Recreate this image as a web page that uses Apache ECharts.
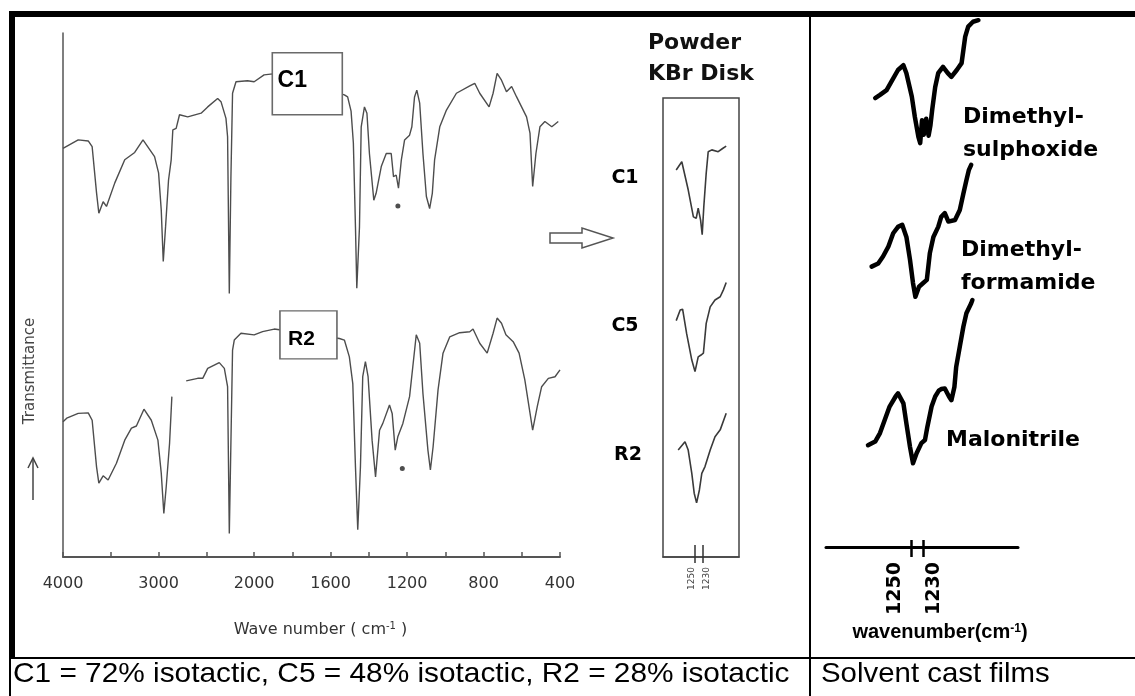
<!DOCTYPE html>
<html>
<head>
<meta charset="utf-8">
<script src="https://cdn.jsdelivr.net/npm/echarts@6/dist/echarts.min.js"></script>
<style>
  html, body { margin: 0; padding: 0; background: #fff; }
  #chart { width: 1135px; height: 696px; }
</style>
</head>
<body>
<div id="chart"></div>
<script>
// ---- Full-range IR spectra: [wavenumber cm-1, transmittance (offset, arb. units)] ----
const c1Spectrum = [
  [4000,78.0],[3841,79.6],[3736,79.4],[3695,78.3],[3649,69.5],[3625,65.6],[3580,67.8],[3545,66.9],
  [3458,71.4],[3354,75.8],[3250,77.2],[3163,79.6],[3042,76.4],[3000,73.3],[2972,66.2],[2951,56.4],
  [2927,63.0],[2896,71.9],[2868,75.8],[2851,81.5],[2816,81.8],[2781,84.4],[2695,84.0],[2555,84.7],
  [2486,85.9],[2382,87.5],[2347,86.9],[2295,83.7],[2278,80.2],[2260,50.3],[2243,72.6],[2226,88.5],
  [2190,90.7],[2070,90.9],[2000,90.7],[1948,92.0],[1903,92.2],[1528,88.2],[1511,87.8],[1493,85.1],
  [1481,79.0],[1470,63.0],[1463,51.3],[1449,63.0],[1440,82.1],[1423,85.9],[1410,84.7],[1397,77.0],
  [1374,68.1],[1362,69.4],[1335,74.5],[1309,77.0],[1283,77.0],[1271,72.6],[1257,72.9],[1245,70.4],
  [1230,75.8],[1213,79.6],[1187,80.5],[1175,82.1],[1161,87.8],[1149,89.1],[1134,86.6],[1117,77.0],
  [1099,68.8],[1082,66.5],[1068,69.4],[1056,75.8],[1029,82.1],[994,85.3],[942,88.5],[872,89.9],
  [846,90.4],[820,88.5],[771,85.9],[750,88.5],[729,92.3],[706,91.0],[680,88.8],[653,89.8],
  [627,87.8],[575,84.0],[557,80.9],[543,70.7],[526,77.0],[505,82.1],[479,83.1],[443,82.1],[409,83.1]
];
const r2Spectrum = [
  [4000,25.8],[3961,26.5],[3841,27.4],[3736,27.5],[3695,26.1],[3649,17.2],[3625,14.1],[3580,15.5],
  [3528,14.7],[3441,17.9],[3354,22.3],[3284,24.6],[3232,25.0],[3153,28.2],[3076,26.1],[3007,22.3],
  [2972,16.0],[2945,8.3],[2920,13.4],[2885,21.7],[2861,30.6],[2790,null],[2711,33.6],[2591,34.1],
  [2538,34.1],[2486,36.0],[2365,37.1],[2312,36.0],[2278,32.5],[2260,4.5],[2226,39.5],[2208,41.4],
  [2138,42.7],[2000,42.4],[1956,43.0],[1895,43.5],[1554,41.7],[1528,41.4],[1502,38.2],[1484,33.1],
  [1470,17.2],[1458,5.2],[1444,17.2],[1432,34.4],[1418,37.3],[1404,34.4],[1383,22.3],[1365,15.3],
  [1344,24.2],[1327,25.5],[1292,29.0],[1278,27.4],[1262,20.4],[1248,23.0],[1222,25.5],[1187,30.6],
  [1170,36.3],[1152,42.4],[1134,40.8],[1117,31.2],[1091,20.4],[1078,16.6],[1064,21.0],[1038,31.9],
  [1012,38.9],[977,42.0],[925,42.8],[872,43.0],[855,43.5],[820,40.8],[781,38.9],[750,42.7],
  [729,45.6],[706,44.6],[683,42.4],[645,41.1],[614,38.9],[584,33.8],[543,24.2],[519,28.7],
  [496,32.5],[461,34.1],[426,34.4],[400,35.7]
];
// asterisked bands (C1, R2)
const starredBands = [[1248,67.0],[1225,16.9]];
// sample tags drawn in boxes: [name, wavenumber, transmittance]
const spectrumTags = [['C1',1722,90.3],['R2',1716,42.4]];
const mainTicks = [4000,3500,3000,2500,2000,1800,1600,1400,1200,1000,800,600,400];
const mainTickLabels = [4000,3000,2000,1600,1200,800,400];

// ---- Powder KBr disk, 1300-1170 cm-1 region ----
const kbrC1 = [[1297,84.3],[1283,86.1],[1279,85.8],[1267,80.0],[1254,74.1],[1247,73.8],[1242,76.0],[1236,73.4],
  [1232,70.2],[1228,76.3],[1222,83.6],[1217,88.3],[1208,88.7],[1192,88.3],[1181,89.0],[1172,89.5]];
const kbrC5 = [[1297,51.5],[1287,53.8],[1281,54.0],[1271,48.7],[1258,42.9],[1250,40.4],[1242,43.6],[1235,44.0],
  [1229,44.4],[1222,50.9],[1212,54.5],[1200,56.0],[1187,56.7],[1179,58.2],[1172,59.8]];
const kbrR2 = [[1292,23.3],[1275,25.1],[1267,23.3],[1258,18.2],[1252,13.9],[1246,11.8],[1239,14.6],[1233,18.2],
  [1225,19.7],[1212,23.3],[1200,26.2],[1187,27.7],[1172,31.3]];
const kbrNames = ['C1','C5','R2'];

// ---- Solvent cast films ----
const dmsoFilm = [[1310,84.7],[1302,85.3],[1291,86.2],[1283,87.8],[1272,90.0],[1263,90.9],[1258,89.4],[1249,85.0],
  [1244,81.2],[1238,77.4],[1235,76.2],[1232,80.5],[1229,77.8],[1225,80.8],[1221,77.6],[1218,79.5],[1215,82.5],
  [1210,86.8],[1205,89.4],[1197,90.6],[1189,89.4],[1183,88.7],[1174,90.0],[1166,91.3],[1163,93.8],[1160,96.3],
  [1155,98.2],[1147,99.1],[1138,99.4]];
const dmfFilm = [[1316,52.9],[1305,53.5],[1297,54.8],[1288,56.7],[1280,59.2],[1272,60.4],[1265,60.8],[1258,58.5],
  [1252,54.2],[1247,49.8],[1243,47.2],[1237,49.1],[1230,49.8],[1224,50.4],[1219,55.4],[1213,58.5],[1205,60.4],
  [1200,62.3],[1194,63.0],[1188,61.4],[1177,61.7],[1169,63.6],[1163,66.7],[1158,69.2],[1154,71.1],[1150,72.1]];
const malonoFilm = [[1322,19.2],[1310,19.9],[1302,21.5],[1294,24.0],[1286,26.5],[1276,28.4],[1272,29.0],[1263,27.1],
  [1258,23.3],[1252,18.9],[1247,15.8],[1241,17.7],[1233,19.6],[1227,20.2],[1223,22.7],[1216,26.5],[1210,28.4],
  [1204,29.5],[1200,29.8],[1194,29.9],[1187,28.4],[1183,27.7],[1178,30.2],[1175,34.0],[1169,37.8],[1163,41.6],
  [1158,44.1],[1150,46.0],[1148,46.6]];
const detailTicks = [1250,1230];

// Spectrometer chart paper: scale doubles below 2000 cm-1.
function toU(wn) { return wn >= 2000 ? (4000 - wn) / 2 : 1000 + (2000 - wn); }
function fromU(u) { return u <= 1000 ? 4000 - 2 * u : 2000 - (u - 1000); }
const asAxis = arr => arr.map(([w, t]) => [toU(w), t == null ? '-' : t]);

const chart = echarts.init(document.getElementById('chart'), null, { renderer: 'canvas' });

const traceGray = '#4d4d4d';
const scanFont = 'DejaVu Sans';
const boldFont = 'DejaVu Sans';

const tagSizes = { C1: [70, 62], R2: [57, 48] };
const tagOffsets = { C1: [-15, -3], R2: [-7, 4] };
const tagFonts = { C1: 23, R2: 21 };

function tagMark(name, wn, t) {
  return {
    markPoint: {
      silent: true,
      animation: false,
      data: [{
        coord: [toU(wn), t],
        symbol: 'rect',
        symbolSize: tagSizes[name],
        itemStyle: { color: '#fff', borderColor: '#6a6a6a', borderWidth: 1.5 },
        label: {
          show: true, formatter: name, position: 'inside', offset: tagOffsets[name],
          color: '#000', fontFamily: 'Liberation Sans', fontWeight: 'bold', fontSize: tagFonts[name]
        }
      }]
    }
  };
}

const specSeries = (data, extra) => Object.assign({
  type: 'line', xAxisIndex: 0, yAxisIndex: 0, data: asAxis(data), symbol: 'none',
  lineStyle: { color: traceGray, width: 1.4 }, silent: true, animation: false
}, extra || {});

const insetSeries = data => ({
  type: 'line', xAxisIndex: 1, yAxisIndex: 1, data: data, symbol: 'none',
  lineStyle: { color: '#3a3a3a', width: 1.6 }, silent: true, animation: false
});
const filmSeries = data => ({
  type: 'line', xAxisIndex: 3, yAxisIndex: 2, data: data, symbol: 'none',
  lineStyle: { color: '#000', width: 4.5, join: 'round', cap: 'round' }, silent: true, animation: false
});

const hiddenY = idx => ({ type: 'value', gridIndex: idx, min: 0, max: 100, show: false });

const option = {
  backgroundColor: '#fff',
  animation: false,
  grid: [
    { left: 63, top: 33, width: 497, height: 524 },
    { left: 663, top: 98, width: 76, height: 459, show: true, borderColor: '#444', borderWidth: 1.5, backgroundColor: 'transparent' },
    { left: 826, top: 17, width: 192, height: 530 }
  ],
  xAxis: [
    {
      type: 'value', gridIndex: 0, min: 0, max: 2600, position: 'bottom',
      axisLine: { show: true, onZero: false, lineStyle: { color: '#555', width: 2 } },
      axisTick: { show: true, inside: true, length: 5, customValues: mainTicks.map(toU), lineStyle: { color: '#555', width: 1.5 } },
      axisLabel: {
        show: true, customValues: mainTickLabels.map(toU), formatter: v => String(Math.round(fromU(v))),
        fontFamily: scanFont, fontSize: 16, color: '#333', margin: 19
      },
      splitLine: { show: false },
      name: 'Wave number ( cm{sup|-1} )', nameLocation: 'middle', nameGap: 64,
      nameTextStyle: {
        fontFamily: scanFont, fontSize: 16, color: '#333', padding: [0, 0, 0, 18],
        rich: { sup: { fontFamily: scanFont, fontSize: 10, color: '#333', verticalAlign: 'top', padding: [0, 0, 8, 0] } }
      }
    },
    {
      type: 'value', gridIndex: 1, min: 1140, max: 1330, inverse: true, position: 'bottom',
      axisLine: { show: true, onZero: false, lineStyle: { color: '#444', width: 1.5 } },
      axisTick: { show: true, inside: true, length: 12, customValues: detailTicks, lineStyle: { color: '#333', width: 1.5 } },
      axisLabel: {
        show: true, customValues: detailTicks, rotate: 90, margin: 10, hideOverlap: false,
        formatter: v => (v === 1250 ? '{a|1250}' : '{b|1230}'),
        rich: {
          a: { fontFamily: scanFont, fontSize: 9, color: '#444', padding: [0, 0, 7, 0] },
          b: { fontFamily: scanFont, fontSize: 9, color: '#444', padding: [7, 0, 0, 0] }
        }
      },
      splitLine: { show: false }
    },
    {
      type: 'value', gridIndex: 1, min: 1140, max: 1330, inverse: true, position: 'bottom',
      axisLine: { show: false },
      axisTick: { show: true, inside: false, length: 6, customValues: detailTicks, lineStyle: { color: '#333', width: 1.5 } },
      axisLabel: { show: false }, splitLine: { show: false }
    },
    {
      type: 'value', gridIndex: 2, min: 1072, max: 1392, inverse: true, position: 'bottom',
      axisLine: { show: true, onZero: false, lineStyle: { color: '#000', width: 3 } },
      axisTick: { show: true, inside: true, length: 7, customValues: detailTicks, lineStyle: { color: '#000', width: 2.5 } },
      axisLabel: {
        show: true, customValues: detailTicks, rotate: 90, margin: 15, hideOverlap: false,
        formatter: v => (v === 1250 ? '{a|1250}' : '{b|1230}'),
        rich: {
          a: { fontFamily: boldFont, fontWeight: 'bold', fontSize: 19, color: '#000', padding: [0, 0, 32, 0] },
          b: { fontFamily: boldFont, fontWeight: 'bold', fontSize: 19, color: '#000', padding: [22, 0, 0, 0] }
        }
      },
      splitLine: { show: false },
      name: 'wavenumber(cm{sup|-1})', nameLocation: 'middle', nameGap: 74,
      nameTextStyle: {
        fontFamily: 'Liberation Sans', fontWeight: 'bold', fontSize: 20, color: '#000', padding: [0, 0, 0, 36],
        rich: { sup: { fontFamily: 'Liberation Sans', fontWeight: 'bold', fontSize: 12, color: '#000', verticalAlign: 'top', padding: [0, 0, 8, 0] } }
      }
    },
    {
      type: 'value', gridIndex: 2, min: 1072, max: 1392, inverse: true, position: 'bottom',
      axisLine: { show: false },
      axisTick: { show: true, inside: false, length: 10, customValues: detailTicks, lineStyle: { color: '#000', width: 2.5 } },
      axisLabel: { show: false }, splitLine: { show: false }
    }
  ],
  yAxis: [
    {
      type: 'value', gridIndex: 0, min: 0, max: 100,
      axisLine: { show: true, onZero: false, lineStyle: { color: '#555', width: 1.5 } },
      axisTick: { show: false }, axisLabel: { show: false }, splitLine: { show: false }
    },
    hiddenY(1),
    hiddenY(2)
  ],
  series: [
    specSeries(c1Spectrum, tagMark(...spectrumTags[0])),
    specSeries(r2Spectrum, tagMark(...spectrumTags[1])),
    {
      type: 'scatter', xAxisIndex: 0, yAxisIndex: 0, data: asAxis(starredBands),
      symbol: 'circle', symbolSize: 5, itemStyle: { color: '#222' }, silent: true
    },
    insetSeries(kbrC1), insetSeries(kbrC5), insetSeries(kbrR2),
    filmSeries(dmsoFilm), filmSeries(dmfFilm), filmSeries(malonoFilm)
  ],
  graphic: [
    // table rules
    { type: 'rect', shape: { x: 9, y: 11, width: 1126, height: 6 }, style: { fill: '#000' }, silent: true },
    { type: 'rect', shape: { x: 9, y: 11, width: 6, height: 647 }, style: { fill: '#000' }, silent: true },
    { type: 'rect', shape: { x: 9, y: 657, width: 2, height: 39 }, style: { fill: '#000' }, silent: true },
    { type: 'rect', shape: { x: 9, y: 657, width: 1126, height: 2 }, style: { fill: '#000' }, silent: true },
    { type: 'rect', shape: { x: 809, y: 17, width: 2, height: 679 }, style: { fill: '#000' }, silent: true },
    // ordinate title and arrow
    { type: 'text', x: 30, y: 371, rotation: Math.PI / 2, silent: true,
      style: { text: 'Transmittance', font: '15px "DejaVu Sans"', fill: '#444', align: 'center', verticalAlign: 'middle' } },
    { type: 'line', shape: { x1: 33, y1: 500, x2: 33, y2: 459 }, style: { stroke: '#444', lineWidth: 1.5 }, silent: true },
    { type: 'polyline', shape: { points: [[28, 468], [33, 458], [38, 468]] }, style: { stroke: '#444', lineWidth: 1.5, fill: null }, silent: true },
    // hollow arrow pointing to the KBr panel
    { type: 'polygon', silent: true,
      shape: { points: [[550, 233], [582, 233], [582, 228], [613, 238], [582, 248], [582, 243], [550, 243]] },
      style: { fill: '#fff', stroke: '#555', lineWidth: 1.5 } },
    // KBr panel headings
    { type: 'text', x: 648, y: 28, silent: true,
      style: { text: 'Powder\nKBr Disk', font: 'bold 22px "DejaVu Sans"', fill: '#111', align: 'left', verticalAlign: 'top', lineHeight: 31 } },
    { type: 'text', x: 625, y: 178, silent: true,
      style: { text: kbrNames[0], font: 'bold 19px "DejaVu Sans"', fill: '#000', align: 'center', verticalAlign: 'middle' } },
    { type: 'text', x: 625, y: 326, silent: true,
      style: { text: kbrNames[1], font: 'bold 19px "DejaVu Sans"', fill: '#000', align: 'center', verticalAlign: 'middle' } },
    { type: 'text', x: 628, y: 455, silent: true,
      style: { text: kbrNames[2], font: 'bold 19px "DejaVu Sans"', fill: '#000', align: 'center', verticalAlign: 'middle' } },
    // solvent labels
    { type: 'text', x: 963, y: 101, silent: true,
      style: { text: 'Dimethyl-\nsulphoxide', font: 'bold 22px "DejaVu Sans"', fill: '#000', align: 'left', verticalAlign: 'top', lineHeight: 33 } },
    { type: 'text', x: 961, y: 234, silent: true,
      style: { text: 'Dimethyl-\nformamide', font: 'bold 22px "DejaVu Sans"', fill: '#000', align: 'left', verticalAlign: 'top', lineHeight: 33 } },
    { type: 'text', x: 946, y: 440, silent: true,
      style: { text: 'Malonitrile', font: 'bold 22px "DejaVu Sans"', fill: '#000', align: 'left', verticalAlign: 'middle' } },
    // captions
    { type: 'text', x: 13, y: 674, scaleX: 1.065, silent: true,
      style: { text: 'C1 = 72% isotactic, C5 = 48% isotactic, R2 = 28% isotactic', font: '28px "Liberation Sans"', fill: '#000', align: 'left', verticalAlign: 'middle' } },
    { type: 'text', x: 821, y: 674, scaleX: 1.05, silent: true,
      style: { text: 'Solvent cast films', font: '28px "Liberation Sans"', fill: '#000', align: 'left', verticalAlign: 'middle' } }
  ]
};

chart.setOption(option);
</script>
</body>
</html>
